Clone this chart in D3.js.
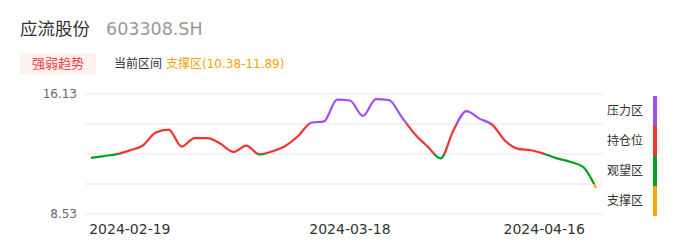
<!DOCTYPE html>
<html>
<head>
<meta charset="utf-8">
<script src="https://cdn.jsdelivr.net/npm/d3@7"></script>
<style>
  body { margin: 0; background: #fff; }
  svg text { font-family: "DejaVu Sans", "Noto Sans CJK SC", sans-serif; }
</style>
</head>
<body>
<div id="chart"></div>
<script>
var stockName = "应流股份",
    stockCode = "603308.SH",
    badgeText = "强弱趋势",
    currentLabel = "当前区间",
    currentZone = "支撑区(10.38-11.89)";

// daily trend values
var values = [12.08, 12.20, 12.32, 12.56, 12.87, 13.69, 13.88, 12.80, 13.34, 13.34,
              12.98, 12.46, 12.86, 12.30, 12.50, 12.84, 13.47, 14.31, 14.40, 15.77,
              15.72, 14.74, 15.81, 15.75, 14.67, 13.60, 12.80, 12.05, 13.85, 15.05,
              14.57, 14.17, 13.15, 12.65, 12.57, 12.34, 12.05, 11.84, 11.51, 10.18];

var tickIdx = [3, 20, 35],
    tickLabels = ["2024-02-19", "2024-03-18", "2024-04-16"];

var yMin = 8.53, yMax = 16.13;
var zoneNames = ["压力区", "持仓位", "观望区", "支撑区"],
    zoneColors = ["#a24cf5", "#f93131", "#05a11d", "#fca800"];

var width = 686, height = 247;
var margin = {left: 85, right: 83, top: 94, bottom: 33};

var svg = d3.select("#chart").append("svg")
    .attr("width", width)
    .attr("height", height);

// header
var title = svg.append("text").attr("x", 20).attr("y", 35)
    .style("font-size", "17.5px");
title.append("tspan").attr("fill", "#333").text(stockName);
title.append("tspan").attr("fill", "#999").attr("dx", 16).text(stockCode);

svg.append("rect").attr("x", 20).attr("y", 53).attr("width", 76).attr("height", 21)
    .attr("fill", "#fff1ee");
svg.append("text").attr("x", 58).attr("y", 63.5)
    .attr("text-anchor", "middle").attr("dominant-baseline", "central")
    .attr("fill", "#f23d3d").style("font-size", "13px").text(badgeText);

var cur = svg.append("text").attr("x", 114).attr("y", 67.5).style("font-size", "12px");
cur.append("tspan").attr("fill", "#333").text(currentLabel);
cur.append("tspan").attr("fill", "#f5a300").attr("dx", 4).text(currentZone);

// scales
var x = d3.scalePoint()
    .domain(d3.range(values.length))
    .range([91, 596]);

var y = d3.scaleLinear()
    .domain([yMin, yMax])
    .range([height - margin.bottom, margin.top]);

var gridVals = d3.range(5).map(function(i) { return yMin + (yMax - yMin) * i / 4; });

svg.append("g").selectAll("line")
    .data(gridVals)
    .join("line")
    .attr("x1", margin.left).attr("x2", width - margin.right)
    .attr("y1", function(d) { return y(d); }).attr("y2", function(d) { return y(d); })
    .attr("stroke", "#e1e5f2").attr("stroke-width", 1);

svg.append("g").selectAll("text")
    .data([yMin, yMax])
    .join("text")
    .attr("x", 77).attr("y", function(d) { return y(d); })
    .attr("text-anchor", "end").attr("dominant-baseline", "central")
    .attr("fill", "#666").style("font-size", "12px")
    .text(function(d) { return d.toFixed(2); });

svg.append("g").selectAll("text")
    .data(tickIdx)
    .join("text")
    .attr("x", function(d) { return x(d); })
    .attr("y", 234)
    .attr("text-anchor", "middle")
    .attr("fill", "#333").style("font-size", "14px")
    .text(function(d, i) { return tickLabels[i]; });

// zone colouring by gridline bands
var bounds = [gridVals[4], gridVals[3], gridVals[2], gridVals[1], gridVals[0]];
var grad = svg.append("defs").append("linearGradient")
    .attr("id", "zoneGrad")
    .attr("gradientUnits", "userSpaceOnUse")
    .attr("x1", 0).attr("x2", 0)
    .attr("y1", y(yMax)).attr("y2", y(yMin));
zoneColors.forEach(function(c, i) {
  var o1 = (y(bounds[i]) - y(yMax)) / (y(yMin) - y(yMax)),
      o2 = (y(bounds[i + 1]) - y(yMax)) / (y(yMin) - y(yMax));
  grad.append("stop").attr("offset", o1).attr("stop-color", c);
  grad.append("stop").attr("offset", o2).attr("stop-color", c);
});

var line = d3.line()
    .x(function(d, i) { return x(i); })
    .y(function(d) { return y(d); })
    .curve(d3.curveMonotoneX);

svg.append("path")
    .datum(values)
    .attr("d", line)
    .attr("fill", "none")
    .attr("stroke", "url(#zoneGrad)")
    .attr("stroke-width", 2.2);

// legend on the right
var band = (y(yMin) - y(yMax)) / 4;
var leg = svg.append("g");
leg.selectAll("rect")
    .data(zoneColors)
    .join("rect")
    .attr("x", 653).attr("width", 4)
    .attr("y", function(d, i) { return y(yMax) + 2 + i * band; })
    .attr("height", band)
    .attr("fill", function(d) { return d; });
leg.selectAll("text")
    .data(zoneNames)
    .join("text")
    .attr("x", 607)
    .attr("y", function(d, i) { return y(yMax) + 2 + i * band + band / 2; })
    .attr("dominant-baseline", "central")
    .attr("fill", "#333").style("font-size", "12px")
    .text(function(d) { return d; });
</script>
</body>
</html>
